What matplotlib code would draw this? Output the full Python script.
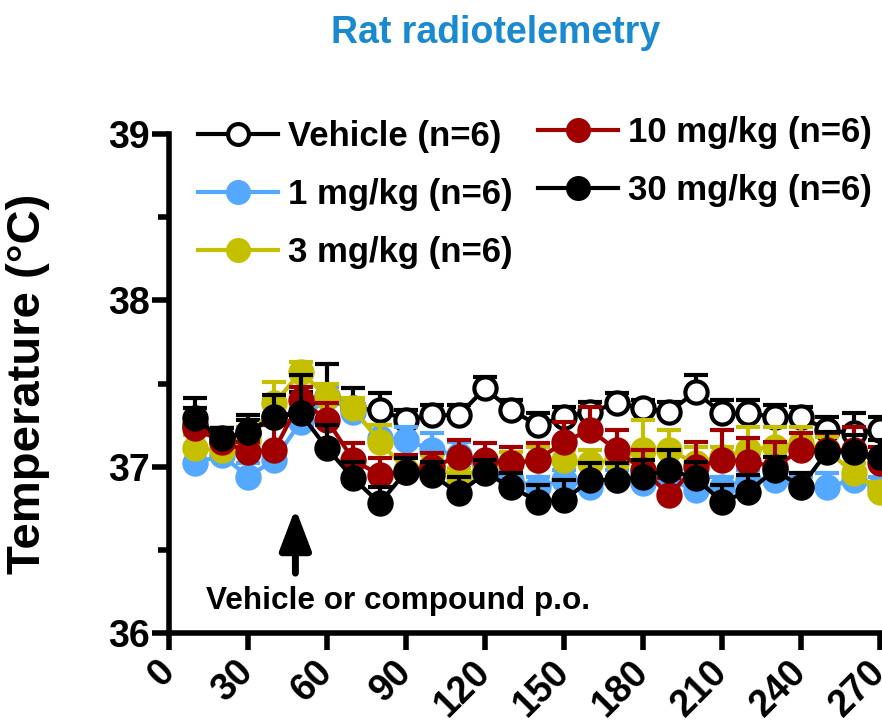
import matplotlib
matplotlib.use("Agg")
import matplotlib.pyplot as plt
from matplotlib.lines import Line2D
from matplotlib.ticker import MultipleLocator

plt.rcParams['font.family'] = ['Liberation Sans', 'DejaVu Sans']
plt.rcParams['font.weight'] = 'bold'

# Sampling times (min after start of recording)
time_min = [10, 20, 30, 40, 50, 60, 70, 80, 90, 100, 110, 120, 130, 140,
            150, 160, 170, 180, 190, 200, 210, 220, 230, 240, 250, 260, 270]

# Mean body temperature (°C) and SEM per group
vehicle = [37.25, 37.15, 37.20, 37.30, 37.33, 37.42, 37.35, 37.34, 37.28, 37.31,
           37.31, 37.47, 37.34, 37.25, 37.30, 37.33, 37.38, 37.35, 37.33, 37.45,
           37.32, 37.32, 37.30, 37.30, 37.22, 37.20, 37.22]
vehicle_err = [0.10, 0.08, 0.08, 0.10, 0.12, 0.20, 0.12, 0.10, 0.06, 0.06,
               0.06, 0.07, 0.06, 0.07, 0.06, 0.06, 0.06, 0.05, 0.06, 0.10,
               0.08, 0.08, 0.07, 0.06, 0.08, 0.12, 0.08]

dose_1 = [37.02, 37.07, 36.94, 37.04, 37.27, 37.42, 37.33, 37.17, 37.16, 37.10,
          37.07, 36.97, 36.92, 36.88, 36.92, 36.88, 36.92, 36.90, 36.92, 36.86,
          36.88, 36.92, 36.92, 36.88, 36.88, 36.92, 36.88]
dose_1_err = [0.08, 0.06, 0.08, 0.08, 0.06, 0.06, 0.06, 0.08, 0.08, 0.10,
              0.08, 0.06, 0.06, 0.06, 0.06, 0.06, 0.06, 0.06, 0.08, 0.06,
              0.06, 0.06, 0.06, 0.06, 0.08, 0.06, 0.06]

dose_3 = [37.11, 37.10, 37.16, 37.38, 37.57, 37.42, 37.35, 37.15, 36.98, 37.01,
          36.93, 37.00, 37.03, 37.04, 37.04, 37.02, 37.04, 37.10, 37.10, 37.02,
          37.06, 37.10, 37.12, 37.14, 37.10, 36.96, 36.85]
dose_3_err = [0.08, 0.06, 0.08, 0.13, 0.06, 0.08, 0.06, 0.10, 0.08, 0.06,
              0.06, 0.06, 0.06, 0.08, 0.06, 0.08, 0.06, 0.18, 0.12, 0.10,
              0.06, 0.14, 0.12, 0.10, 0.08, 0.06, 0.06]

dose_10 = [37.23, 37.15, 37.09, 37.10, 37.40, 37.28, 37.04, 36.95, 36.97, 37.00,
           37.06, 37.04, 37.02, 37.04, 37.15, 37.22, 37.10, 36.98, 36.83, 37.00,
           37.04, 37.03, 37.00, 37.10, 37.10, 37.10, 37.02]
dose_10_err = [0.06, 0.08, 0.06, 0.15, 0.08, 0.10, 0.10, 0.10, 0.10, 0.08,
               0.10, 0.10, 0.10, 0.10, 0.12, 0.14, 0.12, 0.12, 0.10, 0.15,
               0.18, 0.14, 0.15, 0.10, 0.10, 0.14, 0.10]

dose_30 = [37.29, 37.17, 37.21, 37.30, 37.32, 37.11, 36.93, 36.78, 36.97, 36.95,
           36.84, 36.96, 36.88, 36.79, 36.80, 36.92, 36.92, 36.94, 36.98, 36.93,
           36.79, 36.85, 36.98, 36.88, 37.09, 37.09, 37.06]
dose_30_err = [0.12, 0.06, 0.10, 0.13, 0.23, 0.14, 0.10, 0.10, 0.08, 0.08,
               0.10, 0.08, 0.08, 0.10, 0.12, 0.10, 0.10, 0.10, 0.12, 0.10,
               0.10, 0.10, 0.08, 0.08, 0.12, 0.10, 0.10]

x_ticks = [0, 30, 60, 90, 120, 150, 180, 210, 240, 270]
y_ticks = [36, 37, 38, 39]

C_BLUE = '#55a8ff'
C_YELLOW = '#c4c000'
C_RED = '#a00000'
C_BLACK = '#000000'

series = [
    ("Vehicle (n=6)", vehicle, vehicle_err, C_BLACK, 'white'),
    ("1 mg/kg (n=6)", dose_1, dose_1_err, C_BLUE, C_BLUE),
    ("3 mg/kg (n=6)", dose_3, dose_3_err, C_YELLOW, C_YELLOW),
    ("10 mg/kg (n=6)", dose_10, dose_10_err, C_RED, C_RED),
    ("30 mg/kg (n=6)", dose_30, dose_30_err, C_BLACK, C_BLACK),
]

fig = plt.figure(figsize=(8.82, 7.22), dpi=100)
ax = fig.add_axes([169 / 882, 89 / 722, 711 / 882, 499 / 722])

LW = 3.0
MS = 16
handles = []
for z, (label, y, err, col, face) in enumerate(series):
    # upper-only SEM bars
    ax.errorbar(time_min, y, yerr=[[0] * len(err), err], fmt='none',
                ecolor=col, elinewidth=LW, capsize=8.5, capthick=LW,
                zorder=2 + 2 * z, clip_on=False)
    ax.plot(time_min, y, '-o', color=col, lw=LW, ms=MS,
            mfc=face, mec=col, mew=LW, zorder=3 + 2 * z, clip_on=False)
    handles.append(Line2D([], [], color=col, lw=LW, marker='o', ms=MS - 1,
                          mfc=face, mec=col, mew=LW, label=label))

ax.set_xlim(0, 270)
ax.set_ylim(36, 39)
ax.set_xticks(x_ticks)
ax.set_yticks(y_ticks)
ax.yaxis.set_minor_locator(MultipleLocator(0.5))
for s in ['top', 'right']:
    ax.spines[s].set_visible(False)
for s in ['left', 'bottom']:
    ax.spines[s].set_linewidth(4)
ax.tick_params(axis='both', which='major', width=4, length=12, labelsize=27)
ax.tick_params(axis='y', which='minor', width=4, length=8)
ax.tick_params(axis='y', pad=2)
for t in ax.get_yticklabels():
    t.set_fontweight('bold')
ax.set_xticklabels([str(v) for v in x_ticks], rotation=45, ha='right',
                   va='center', rotation_mode='anchor', fontweight='bold')
ax.tick_params(axis='x', pad=12)

ax.set_ylabel("Temperature (°C)", fontsize=34, fontweight='bold')
ax.yaxis.set_label_coords(-0.168, 0.5)

fig.text(496 / 882, 1 - 33 / 722, "Rat radiotelemetry", color='#1a8ad0',
         fontsize=27, fontweight='bold', ha='center', va='center')

# dosing arrow and note
ax.annotate("", xy=(48, 36.75), xytext=(48, 36.36),
            arrowprops=dict(arrowstyle='-|>,head_width=0.95,head_length=2.5',
                            color='black', lw=5.0, shrinkA=0, shrinkB=0))
ax.text(14, 36.19, "Vehicle or compound p.o.", fontsize=22.7, fontweight='bold',
        ha='left', va='center')

leg_kw = dict(frameon=False, handlelength=2.3, handletextpad=0.3,
              labelspacing=0.72, borderaxespad=0, borderpad=0,
              prop=dict(weight='bold', size=25))
leg1 = fig.legend(handles=handles[:3], loc='upper left',
                  bbox_to_anchor=(198 / 882, 1 - 120 / 722), **leg_kw)
leg2 = fig.legend(handles=handles[3:], loc='upper left',
                  bbox_to_anchor=(538 / 882, 1 - 116 / 722), **leg_kw)

fig.savefig("out.png", dpi=100)
